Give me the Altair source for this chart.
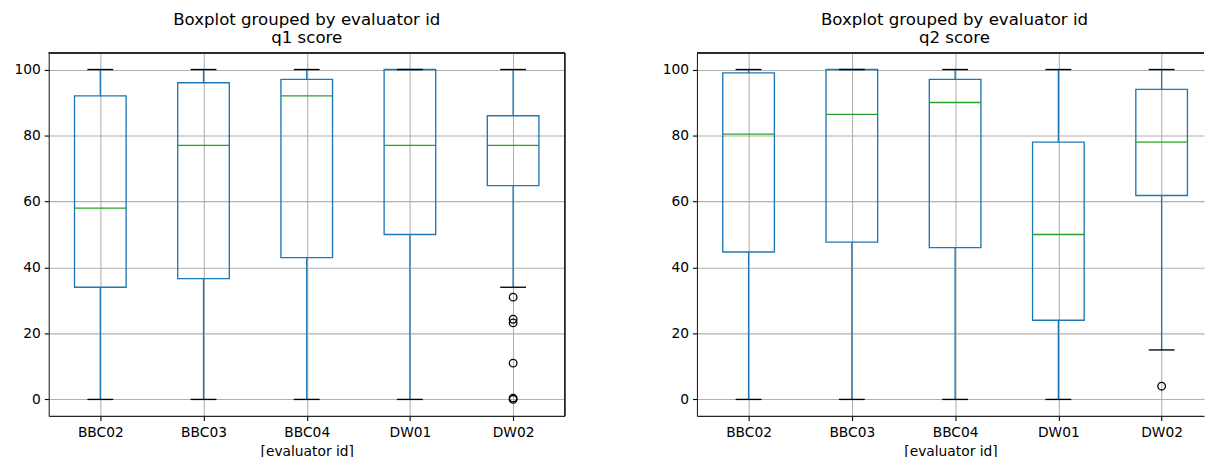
import altair as alt
import pandas as pd

categories = ["BBC02", "BBC03", "BBC04", "DW01", "DW02"]
positions = [1, 2, 3, 4, 5]

# q1 score box statistics
q1_low = [0, 0, 0, 0, 34]
q1_lower_quart = [34, 36.6, 43, 50, 64.8]
q1_median = [58, 77, 92, 77, 77]
q1_upper_quart = [92, 96, 97, 100, 86]
q1_high = [100, 100, 100, 100, 100]
q1_outlier_cat = ["DW02", "DW02", "DW02", "DW02", "DW02", "DW02"]
q1_outlier_val = [31, 24.3, 23.2, 11, 0, 0.4]

# q2 score box statistics
q2_low = [0, 0, 0, 0, 15]
q2_lower_quart = [44.7, 47.7, 46, 24, 61.8]
q2_median = [80.4, 86.4, 90, 50, 78]
q2_upper_quart = [99, 100, 97, 78, 94]
q2_high = [100, 100, 100, 100, 100]
q2_outlier_cat = ["DW02"]
q2_outlier_val = [4]

y_ticks = [0, 20, 40, 60, 80, 100]

FONT = "DejaVu Sans"
FRAME = "#262626"
LW = 1.35
label_expr = "[" + ",".join("'%s'" % c for c in categories) + "][datum.value - 1]"


def panel(title_lines, low, lq, med, uq, high, out_cat, out_val, width, xmax, right_frame, dx):
    df = pd.DataFrame({"cat": categories, "pos": positions, "low": low, "lq": lq,
                       "med": med, "uq": uq, "high": high})
    odf = pd.DataFrame({"cat": out_cat, "val": out_val})
    odf["pos"] = [positions[categories.index(c)] for c in out_cat]

    xscale = alt.Scale(domain=[0.5, xmax], nice=False, zero=False)
    yscale = alt.Scale(domain=[-5, 105], nice=False, zero=False)
    xaxis = alt.Axis(values=positions, labelExpr=label_expr, title="[evaluator id]",
                     grid=True, gridColor="#b0b0b0", gridWidth=1.1,
                     domainColor=FRAME, domainWidth=1.1, tickColor="black", tickWidth=1.1,
                     tickSize=4.5, labelPadding=5, labelAngle=0, labelFont=FONT,
                     labelFontSize=13.9, labelColor="black", titleFont=FONT,
                     titleFontSize=13.9, titleFontWeight="normal", titleColor="black",
                     titlePadding=5)
    yaxis = alt.Axis(values=y_ticks, title="", grid=True, gridColor="#b0b0b0",
                     gridWidth=1.1, domainColor=FRAME, domainWidth=1.1, tickColor="black",
                     tickWidth=1.1, tickSize=4.5, labelPadding=4, labelFont=FONT,
                     labelFontSize=13.9, labelColor="black")

    def X(f):
        return alt.X(f, scale=xscale, axis=xaxis)

    def Y(f):
        return alt.Y(f, scale=yscale, axis=yaxis)

    base = alt.Chart(df).transform_calculate(
        bl="datum.pos - 0.25", br="datum.pos + 0.25",
        cl="datum.pos - 0.125", cr="datum.pos + 0.125")

    box = base.mark_rect(fill="transparent", stroke="#1f77b4", strokeWidth=LW).encode(
        x=X("bl:Q"), x2="br:Q", y=Y("lq:Q"), y2="uq:Q")
    wlo = base.mark_rule(color="#1f77b4", strokeWidth=LW).encode(
        x=X("pos:Q"), y=Y("low:Q"), y2="lq:Q")
    whi = base.mark_rule(color="#1f77b4", strokeWidth=LW).encode(
        x=X("pos:Q"), y=Y("uq:Q"), y2="high:Q")
    cap_lo = base.mark_rule(color="black", strokeWidth=LW).encode(
        x=X("cl:Q"), x2="cr:Q", y=Y("low:Q"))
    cap_hi = base.mark_rule(color="black", strokeWidth=LW).encode(
        x=X("cl:Q"), x2="cr:Q", y=Y("high:Q"))
    median = base.mark_rule(color="#2ca02c", strokeWidth=LW).encode(
        x=X("bl:Q"), x2="br:Q", y=Y("med:Q"))
    outl = alt.Chart(odf).mark_point(shape="circle", size=58, filled=False,
                                     color="black", strokeWidth=1.3, opacity=1).encode(
        x=X("pos:Q"), y=Y("val:Q"))
    top = alt.Chart(df).mark_rule(color=FRAME, strokeWidth=1.1).encode(
        y=alt.YDatum(105, scale=yscale, axis=yaxis))
    layers = [box, wlo, whi, cap_lo, cap_hi, median, outl, top]
    if right_frame:
        rf = alt.Chart(df).mark_rule(color=FRAME, strokeWidth=1.1).encode(
            x=alt.XDatum(xmax, scale=xscale, axis=xaxis))
        layers.append(rf)
    return alt.layer(*layers).properties(
        width=width, height=365,
        view=alt.ViewBackground(strokeOpacity=0),
        title=alt.Title(title_lines, font=FONT, fontSize=16.7, fontWeight="normal",
                        color="black", anchor="middle", offset=6, lineHeight=18, dx=dx),
    )


left = panel(["Boxplot grouped by evaluator id", "q1 score"], q1_low, q1_lower_quart,
             q1_median, q1_upper_quart, q1_high, q1_outlier_cat, q1_outlier_val,
             519, 5.5, True, 0)
right = panel(["Boxplot grouped by evaluator id", "q2 score"], q2_low, q2_lower_quart,
              q2_median, q2_upper_quart, q2_high, q2_outlier_cat, q2_outlier_val,
              510, 0.5 + 510 / 103.86, False, 4)

chart = alt.hconcat(left, right, spacing=96).properties(
    padding={"left": 13, "top": 10, "right": 0, "bottom": 0},
    background="white",
)

chart.save("out.html", embed_options={"renderer": "svg", "actions": False})
